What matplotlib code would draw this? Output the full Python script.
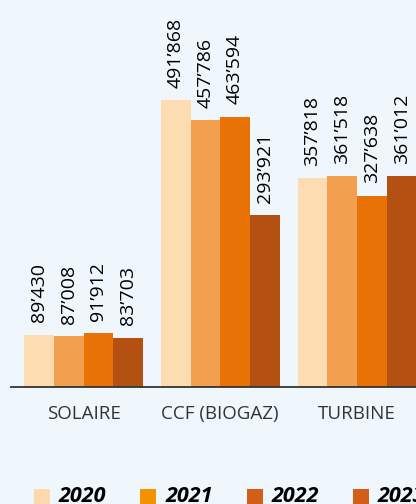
import matplotlib
matplotlib.use("Agg")
import matplotlib.pyplot as plt
from matplotlib.patches import Rectangle
import numpy as np

categories = ["SOLAIRE", "CCF (BIOGAZ)", "TURBINE"]
years = ["2020", "2021", "2022", "2023"]
values = {
    "2020": [89430, 491868, 357818],
    "2021": [87008, 457786, 361518],
    "2022": [91912, 463594, 327638],
    "2023": [83703, 293921, 361012],
}
labels = {
    "2020": ["89’430", "491’868", "357’818"],
    "2021": ["87’008", "457’786", "361’518"],
    "2022": ["91’912", "463’594", "327’638"],
    "2023": ["83’703", "293’921", "361’012"],
}
bar_colors = ["#FCDCB0", "#F2A04F", "#E87206", "#B35012"]
legend_colors = ["#FCD9AC", "#F39200", "#D35E17", "#D35E17"]

bg = "#EFF7FD"
W, H = 416, 504
fig = plt.figure(figsize=(W / 100, H / 100), dpi=100, facecolor=bg)
base_px = 386.7
ax = fig.add_axes([11 / W, (H - base_px) / H, 1 - 11 / W, base_px / H])
ax.set_facecolor(bg)

px_per_unit = 0.5825 / 1000
ax.set_ylim(0, base_px / px_per_unit)
grp = 136.75
ax.set_xlim((11 - 83.5) / grp, (416 - 83.5) / grp)

x = np.arange(len(categories))
bw = 29.75 / grp
for i, yr in enumerate(years):
    xs = x + (i - 1.5) * bw
    bars = ax.bar(xs, values[yr], width=bw, color=bar_colors[i], linewidth=0)
    for xi, v, lab in zip(xs, values[yr], labels[yr]):
        ax.annotate(lab, (xi, v), xytext=(0, 9), textcoords="offset points",
                    rotation=90, ha="center", va="bottom", fontsize=14,
                    family="Open Sans", color="#000000")

for s in ["top", "right", "left"]:
    ax.spines[s].set_visible(False)
ax.spines["bottom"].set_color("#333333")
ax.spines["bottom"].set_linewidth(1.3)
ax.set_yticks([])
ax.set_xticks(x)
ax.set_xticklabels(categories, family="Open Sans", fontsize=13.5, color="#333333")
ax.tick_params(axis="x", length=0, pad=13)

# legend
for i, (yr, c) in enumerate(zip(years, legend_colors)):
    x0 = 34 + i * 106.3
    fig.add_artist(Rectangle((x0 / W, (H - 505) / H), 16 / W, 16 / H,
                             transform=fig.transFigure, color=c, lw=0))
    fig.text((x0 + 25) / W, (H - 497) / H, yr, fontsize=15.5, family="Open Sans",
             weight="bold", style="italic", va="center", ha="left", color="#000000")

fig.savefig("out.png", dpi=100, facecolor=bg)
